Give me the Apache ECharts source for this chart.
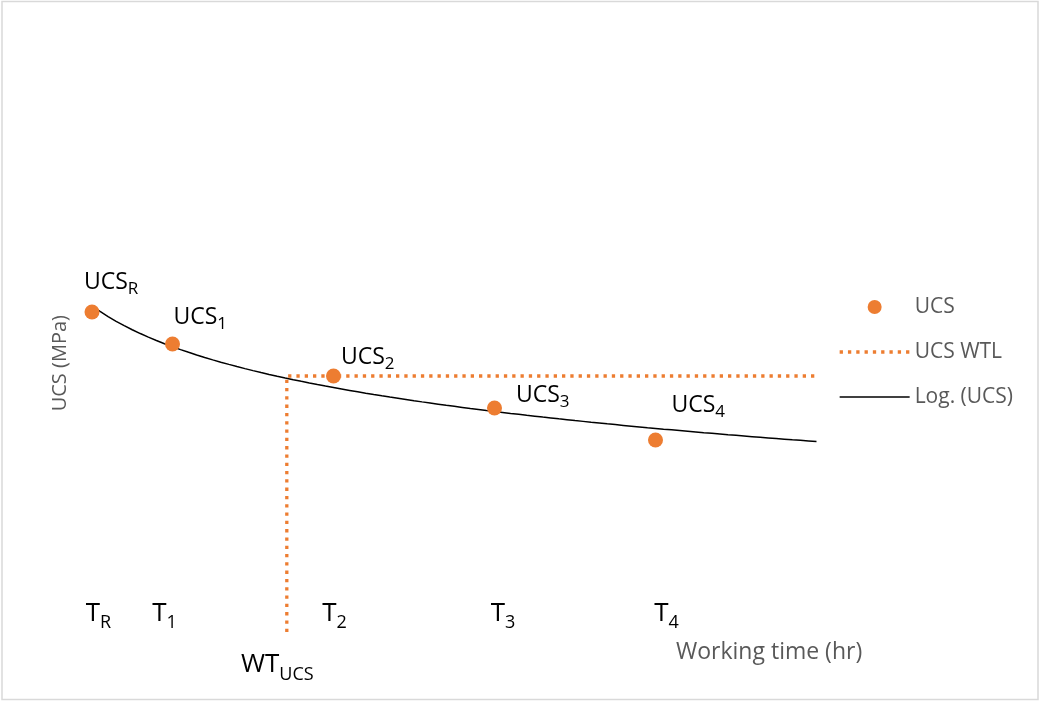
<!DOCTYPE html>
<html><head><meta charset="utf-8">
<script src="https://cdn.jsdelivr.net/npm/echarts@6/dist/echarts.min.js"></script>
<style>html,body{margin:0;padding:0;background:#fff}#c{width:1040px;height:702px}</style>
</head><body><div id="c"></div>
<script>
// ---- data ----
const pointNames = ['R', '1', '2', '3', '4'];
const timeValues = [1, 2, 4, 6, 8];
const ucsValues = [10, 9, 8, 7, 6];
const wtUcs = 3.42;      // working time at UCS WTL
const ucsWtl = 8;        // UCS working-time limit
const wtlEnd = 10;
const trendEnd = 10;
const xMin = 0, xMax = 10, yMin = 0, yMax = 16.8;

// ---- styles ----
const ORANGE = '#ED7D31';
const GREY = '#595959';
const FONT = '"Open Sans", "DejaVu Sans", sans-serif';
const labelPos = [[-0.5, -38], [8.5, -35], [15, -27], [29, -20.5], [23.5, -42.5]];
const tShift = [6.5, -8, 1, 8.5, 11];

// ---- logarithmic trendline (least squares y = a + b ln x) ----
const lx = timeValues.map(Math.log);
const n = lx.length;
const mx = lx.reduce((s, v) => s + v, 0) / n;
const my = ucsValues.reduce((s, v) => s + v, 0) / n;
let sxy = 0, sxx = 0;
for (let i = 0; i < n; i++) { sxy += (lx[i] - mx) * (ucsValues[i] - my); sxx += (lx[i] - mx) ** 2; }
const b = sxy / sxx, a = my - b * mx;
const trendData = [];
for (let x = timeValues[0]; x <= trendEnd + 1e-9; x += 0.1) trendData.push([x, a + b * Math.log(x)]);

const tRich = {
  t: { fontSize: 26, lineHeight: 37, color: '#000', fontFamily: FONT },
  s: { fontSize: 18, lineHeight: 18, padding: [19, 0, 0, 0], color: '#000', fontFamily: FONT }
};
tShift.forEach((d, i) => {
  tRich['l' + i] = { width: Math.max(0, 2 * d), fontSize: 1 };
  tRich['r' + i] = { width: Math.max(0, -2 * d), fontSize: 1 };
});

const chart = echarts.init(document.getElementById('c'), null, { renderer: 'canvas' });
chart.setOption({
  animation: false,
  textStyle: { fontFamily: FONT },
  grid: { left: 11.5, width: 805, top: 94.4, bottom: 70, containLabel: false, outerBoundsMode: 'none' },
  graphic: [{
    type: 'rect', silent: true, z: -10,
    shape: { x: 2, y: 1.5, width: 1036, height: 698 },
    style: { fill: 'none', stroke: '#d9d9d9', lineWidth: 1.5 }
  }],
  legend: {
    orient: 'vertical', left: 833, top: 291,
    itemWidth: 70, itemHeight: 14, itemGap: 23,
    textStyle: { color: GREY, fontSize: 21, lineHeight: 22, fontFamily: FONT },
    data: [
      { name: 'UCS' },
      { name: 'UCS WTL', itemStyle: { opacity: 0 }, lineStyle: { width: 3.3, type: [3.3, 5], color: ORANGE } },
      { name: 'Log. (UCS)', itemStyle: { opacity: 0 }, lineStyle: { width: 1.5, color: '#000' } }
    ]
  },
  xAxis: [{
    type: 'value', min: xMin, max: xMax, position: 'bottom',
    axisLine: { show: false }, axisTick: { show: false }, splitLine: { show: false },
    axisLabel: {
      inside: true, margin: 0,
      customValues: timeValues,
      formatter: (v) => {
        const i = timeValues.indexOf(v);
        return '{l' + i + '| }{t|T}{s|' + pointNames[i] + '}{r' + i + '| }';
      },
      rich: tRich
    },
    name: 'Working time (hr)', nameLocation: 'end', nameGap: -140.5,
    nameTextStyle: { color: GREY, fontSize: 23, lineHeight: 22, verticalAlign: 'top', padding: [9, 0, 0, 0], fontFamily: FONT }
  }, {
    type: 'value', min: xMin, max: xMax, position: 'bottom',
    axisLine: { show: false }, axisTick: { show: false }, splitLine: { show: false },
    axisLabel: {
      margin: 14.5,
      customValues: [wtUcs],
      formatter: () => '{t|WT}{s|UCS}{r| }',
      rich: {
        t: { fontSize: 26, lineHeight: 37, color: '#000', fontFamily: FONT },
        s: { fontSize: 18, lineHeight: 18, padding: [19, 0, 0, 0], color: '#000', fontFamily: FONT },
        r: { width: 19, fontSize: 1 }
      }
    }
  }],
  yAxis: {
    type: 'value', min: yMin, max: yMax,
    axisLine: { show: false }, axisTick: { show: false }, splitLine: { show: false },
    axisLabel: { show: false },
    name: 'UCS (MPa)', nameLocation: 'middle', nameGap: -60,
    nameTextStyle: { color: GREY, fontSize: 20, lineHeight: 22, fontFamily: FONT }
  },
  series: [{
    name: 'UCS', type: 'scatter', z: 5,
    symbol: 'circle', symbolSize: 15,
    itemStyle: { color: ORANGE, opacity: 1 },
    label: {
      show: true,
      rich: {
        a: { fontSize: 23, lineHeight: 31, color: '#000', fontFamily: FONT },
        s: { fontSize: 17, lineHeight: 17, padding: [14, 0, 0, 0], color: '#000', fontFamily: FONT }
      }
    },
    data: timeValues.map((x, i) => ({
      value: [x, ucsValues[i]],
      label: { position: labelPos[i], formatter: '{a|UCS}{s|' + pointNames[i] + '}' }
    }))
  }, {
    name: 'UCS WTL', type: 'line', z: 3,
    symbol: 'none',
    itemStyle: { color: ORANGE },
    lineStyle: { color: ORANGE, width: 3.3, type: [3.3, 5] },
    data: [[wtUcs, yMin], [wtUcs, ucsWtl], [wtlEnd, ucsWtl]]
  }, {
    name: 'Log. (UCS)', type: 'line', z: 2,
    symbol: 'none',
    itemStyle: { color: '#000' },
    lineStyle: { color: '#000', width: 1.5 },
    data: trendData
  }]
});
</script>
</body></html>
